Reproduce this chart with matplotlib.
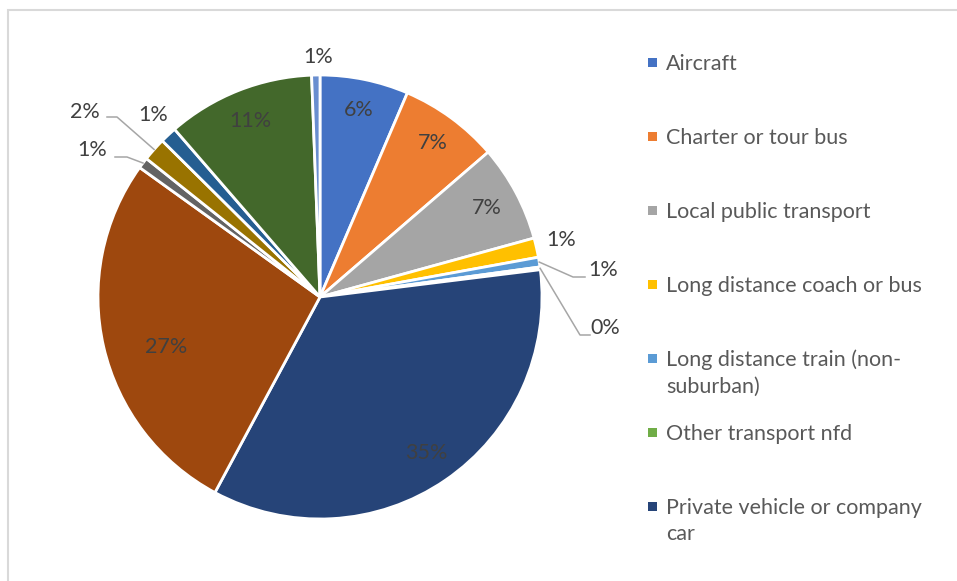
import matplotlib
matplotlib.use("Agg")
import matplotlib.pyplot as plt
from matplotlib.patches import Rectangle
import numpy as np

plt.rcParams["font.family"] = ["Lato", "DejaVu Sans"]

# -------- DATA --------
# legend only shows the first seven series (the rest is cut off in the original)
legend_labels = [
    "Aircraft",
    "Charter or tour bus",
    "Local public transport",
    "Long distance coach or bus",
    "Long distance train (non-\nsuburban)",
    "Other transport nfd",
    "Private vehicle or company\ncar",
]
shares = [6.4, 7.2, 7.0, 1.4, 0.7, 0.2, 34.6, 26.9, 0.8, 1.7, 1.2, 10.7, 0.6]
colors = ["#4472C4", "#ED7D31", "#A5A5A5", "#FFC000", "#5B9BD5", "#70AD47",
          "#264478", "#9E480E", "#636363", "#997300", "#255E91", "#43682B", "#698ED0"]

total = sum(shares)
pct_labels = [f"{round(v / total * 100)}%" for v in shares]

# -------- LAYOUT --------
W, H = 957, 581
CX, CY, R = 320, 297, 222  # pie centre / radius in pixels


def fig_xy(px, py):
    return px / W, 1 - py / H


def data_xy(px, py):
    return (px - CX) / R, (CY - py) / R


LABEL_COLOR = "#404040"
TEXT_COLOR = "#595959"
LEADER_COLOR = "#A6A6A6"
FS = 15.5

fig = plt.figure(figsize=(W / 100, H / 100), dpi=100)
ax = fig.add_axes([(CX - R) / W, (H - CY - R) / H, 2 * R / W, 2 * R / H])

wedges, _ = ax.pie(shares, colors=colors, startangle=90, counterclock=False,
                   radius=1, wedgeprops=dict(edgecolor="white", linewidth=2))
ax.set_xlim(-1, 1)
ax.set_ylim(-1, 1)
ax.set_aspect("equal", adjustable="box")
ax.axis("off")

# labels inside the big slices (radius factor, angle nudge in degrees)
inside = {0: (0.86, 0), 1: (0.86, 0), 2: (0.85, 0), 6: (0.85, 0),
          7: (0.73, 5), 11: (0.85, 0)}
for i, (rf, nudge) in inside.items():
    w = wedges[i]
    mid = np.deg2rad((w.theta1 + w.theta2) / 2 + nudge)
    ax.text(rf * np.cos(mid), rf * np.sin(mid), pct_labels[i], ha="center",
            va="center", fontsize=FS, color=LABEL_COLOR)

# labels outside the thin slices (pixel positions)
outside = {
    12: (318, 57),
    3: (561, 240),
    4: (603, 270),
    5: (605, 328),
    9: (85, 112),
    8: (92, 150),
    10: (153, 115),
}
for i, (px, py) in outside.items():
    x, y = data_xy(px, py)
    ax.text(x, y, pct_labels[i], ha="center", va="center", fontsize=FS,
            color=LABEL_COLOR, clip_on=False)

# leader lines: elbow and end points in pixels
leaders = {
    4: [(573, 277), (585, 277)],
    5: [(580, 335), (590, 335)],
    9: [(117, 117), (107, 117)],
    8: [(127, 157), (115, 157)],
}
for i, pts in leaders.items():
    w = wedges[i]
    mid = np.deg2rad((w.theta1 + w.theta2) / 2)
    xs = [np.cos(mid)] + [data_xy(*p)[0] for p in pts]
    ys = [np.sin(mid)] + [data_xy(*p)[1] for p in pts]
    ax.plot(xs, ys, color=LEADER_COLOR, lw=1.1, clip_on=False)

# legend drawn by hand to get Excel-like spacing
for i, lab in enumerate(legend_labels):
    py = 62 + 74 * i
    x0, y0 = fig_xy(648, py + 4.5)
    fig.add_artist(Rectangle((x0, y0), 9 / W, 9 / H, transform=fig.transFigure,
                             facecolor=colors[i], edgecolor="none"))
    for k, line in enumerate(lab.split("\n")):
        tx, ty = fig_xy(666, py + 7.5 + 27 * k)
        fig.text(tx, ty, line, ha="left", va="baseline", fontsize=FS,
                 color=TEXT_COLOR)

# chart area border (right and bottom edges fall outside the picture)
bx, by = fig_xy(8, 700)
fig.add_artist(Rectangle((bx, by), 2, 1 - 10 / H - by, transform=fig.transFigure,
                         facecolor="none", edgecolor="#D9D9D9", lw=1.5))

fig.savefig("out.png", dpi=100)
